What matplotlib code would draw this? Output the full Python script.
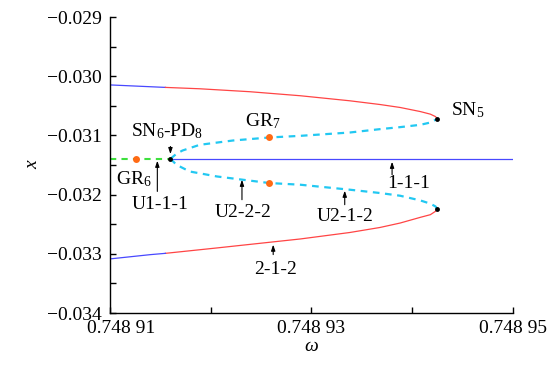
import numpy as np
import matplotlib
matplotlib.use('Agg')
import matplotlib.pyplot as plt
from matplotlib.transforms import ScaledTranslation

plt.rcParams['font.family'] = ['Liberation Serif', 'DejaVu Serif']
plt.rcParams['mathtext.fontset'] = 'custom'
plt.rcParams['mathtext.rm'] = 'Liberation Serif'
plt.rcParams['mathtext.it'] = 'Liberation Serif:italic'
plt.rcParams['axes.unicode_minus'] = True

# branch data (omega, x)
# stable upper branch (blue part, then red part up to SN5)
up_blue_w = [0.7489100, 0.7489155]
up_blue_x = [-0.030147, -0.030189]
up_red_w = [0.7489155, 0.7489189, 0.7489239, 0.7489289, 0.7489338, 0.7489368, 0.7489388,
            0.7489408, 0.7489418, 0.7489423, 0.7489425]
up_red_x = [-0.030189, -0.030212, -0.030262, -0.030330, -0.030415, -0.030478, -0.030528,
            -0.030597, -0.030641, -0.030681, -0.030720]

# unstable upper branch (dashed), from SN6 to SN5
up_dash_w = [0.7489160, 0.7489166, 0.7489172, 0.7489189, 0.7489222, 0.7489258, 0.7489289,
             0.7489338, 0.7489368, 0.7489388, 0.7489408, 0.7489418, 0.7489423, 0.7489425]
up_dash_x = [-0.031395, -0.031310, -0.031255, -0.031159, -0.031086, -0.031035, -0.031007,
             -0.030951, -0.030894, -0.030860, -0.030821, -0.030782, -0.030737, -0.030720]

# unstable lower branch (dashed), from SN6 to lower SN
lo_dash_w = [0.7489160, 0.7489166, 0.7489179, 0.7489206, 0.7489232, 0.7489258, 0.7489289,
             0.7489338, 0.7489368, 0.7489388, 0.7489408, 0.7489418, 0.7489423, 0.7489425]
lo_dash_x = [-0.031395, -0.031496, -0.031609, -0.031693, -0.031749, -0.031804, -0.031833,
             -0.031917, -0.031973, -0.032019, -0.032098, -0.032153, -0.032199, -0.032243]

# stable lower branch
lo_red_w = [0.7489425, 0.7489423, 0.7489418, 0.7489408, 0.7489388, 0.7489368, 0.7489338,
            0.7489289, 0.7489206, 0.7489155]
lo_red_x = [-0.032243, -0.032283, -0.032339, -0.032384, -0.032480, -0.032555, -0.032640,
            -0.032749, -0.032901, -0.032992]
lo_blue_w = [0.7489155, 0.7489140, 0.7489100]
lo_blue_x = [-0.032992, -0.033014, -0.033086]

# period-1 branch
p1_green_w = [0.7489100, 0.7489160]
p1_green_x = [-0.031395, -0.031395]
p1_blue_w = [0.7489160, 0.7489500]
p1_blue_x = [-0.031395, -0.031395]

# special points
sn_w = [0.7489425, 0.7489425, 0.7489160]
sn_x = [-0.030720, -0.032243, -0.031395]
gr_w = [0.7489126, 0.7489258, 0.7489258]
gr_x = [-0.031395, -0.031035, -0.031804]

xticks = [0.74891, 0.74892, 0.74893, 0.74894, 0.74895]
xticklabels = ['0.748 91', '', '0.748 93', '', '0.748 95']
yticks = [-0.034, -0.0335, -0.033, -0.0325, -0.032, -0.0315, -0.031, -0.0305, -0.030, -0.0295, -0.029]
yticklabels = ['\u22120.034', '', '\u22120.033', '', '\u22120.032', '', '\u22120.031', '', '\u22120.030', '', '\u22120.029']

red = '#ff4545'
blue = '#4848ff'
cyan = '#22c8f2'
green = '#3ee03e'
orange = '#ff6a14'
serif = ['Liberation Serif', 'DejaVu Serif']

fig = plt.figure(figsize=(5.48, 3.79), dpi=100)
ax = fig.add_axes([0.2007, 0.1741, 0.7354, 0.781])

ax.plot(up_blue_w, up_blue_x, color=blue, lw=0.9)
ax.plot(up_red_w, up_red_x, color=red, lw=0.9)
ax.plot(lo_red_w, lo_red_x, color=red, lw=0.9)
ax.plot(lo_blue_w, lo_blue_x, color=blue, lw=0.9)
ax.plot(p1_blue_w, p1_blue_x, color=blue, lw=0.9)
ax.plot(p1_green_w, p1_green_x, color=green, lw=1.5, ls=(0, (3, 2.5)))
ax.plot(up_dash_w, up_dash_x, color=cyan, lw=1.6, ls=(0, (3, 2.5)))
ax.plot(lo_dash_w, lo_dash_x, color=cyan, lw=1.6, ls=(0, (3, 2.5)))

ax.plot(gr_w, gr_x, 'o', color=orange, ms=5, mec='none', zorder=5)
ax.plot(sn_w, sn_x, 'o', color='k', ms=3.5, mec='none', zorder=6)

fs = 14
ax.text(0.7489438, -0.030568, 'SN$_5$', fontsize=fs, ha='left', va='center')
ax.text(0.7489252, -0.030766, 'GR$_7$', fontsize=fs, ha='center', va='center')
ax.text(0.7489157, -0.030931, 'SN$_6$-PD$_8$', fontsize=fs, ha='center', va='center')
ax.text(0.7489124, -0.031732, 'GR$_6$', fontsize=fs, ha='center', va='center')
ax.text(0.7489150, -0.032170, 'U1-1-1', fontsize=fs, ha='center', va='center')
ax.text(0.7489232, -0.032305, 'U2-2-2', fontsize=fs, ha='center', va='center')
ax.text(0.7489333, -0.032368, 'U2-1-2', fontsize=fs, ha='center', va='center')
ax.text(0.7489396, -0.031804, '1-1-1', fontsize=fs, ha='center', va='center')
ax.text(0.7489264, -0.033266, '2-1-2', fontsize=fs, ha='center', va='center')

# arrows: (omega, tail x, head x)
arrows = [
    (0.7489160, -0.031187, -0.031315),
    (0.7489147, -0.031946, -0.031428),
    (0.7489231, -0.032086, -0.031749),
    (0.7489333, -0.032170, -0.031934),
    (0.7489380, -0.031664, -0.031445),
    (0.7489262, -0.033013, -0.032845),
]
for w, xt, xh in arrows:
    ax.annotate('', xy=(w, xh), xytext=(w, xt),
                arrowprops=dict(arrowstyle='-|>,head_length=0.35,head_width=0.12',
                                lw=0.8, color='k', shrinkA=0, shrinkB=0))

ax.set_xlim(0.74891, 0.74895)
ax.set_ylim(-0.034, -0.029)
ax.set_xticks(xticks)
ax.set_xticklabels(xticklabels, fontfamily=serif, fontsize=fs)
ax.set_yticks(yticks)
ax.set_yticklabels(yticklabels, fontfamily=serif, fontsize=fs)
ax.tick_params(direction='in', length=4, width=1)
ax.tick_params(axis='x', pad=5)
ax.tick_params(axis='y', pad=6)
for s in ['top', 'right']:
    ax.spines[s].set_visible(False)
for s in ['left', 'bottom']:
    ax.spines[s].set_linewidth(1.0)

# first x label sits a bit to the right, clear of the y labels
first = ax.get_xticklabels()[0]
first.set_transform(first.get_transform() + ScaledTranslation(0.11, 0, fig.dpi_scale_trans))

ax.set_xlabel('ω', fontsize=fs, fontfamily=serif, style='italic', labelpad=1)
ax.set_ylabel('x', fontsize=fs, fontfamily=serif, style='italic', rotation=90, labelpad=4)

fig.savefig('out.png', dpi=100)
